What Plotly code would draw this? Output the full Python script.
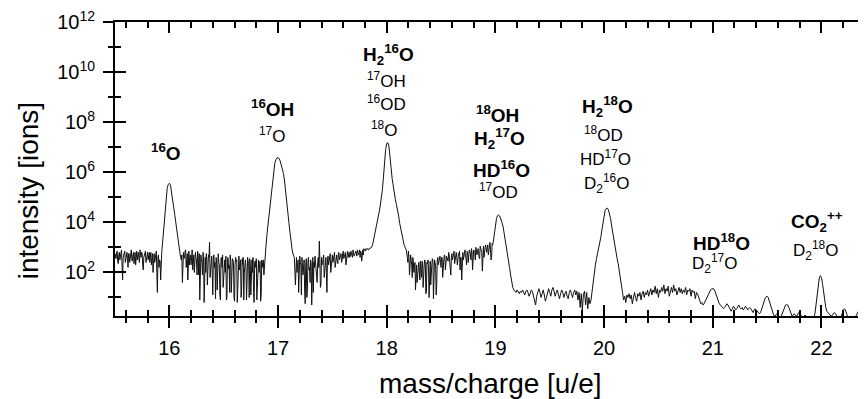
import plotly.graph_objects as go

# ---------------- data (log10 of intensity [ions]) ----------------
# peaks/baseline sampled every 0.01 u/e; the noisy stretches also carry the half-step samples
MASS_STEP = 0.01

noise_a_start = 15.50
noise_a = [2.75, 2.55, 2.85, 2.35, 2.8, 2.65, 2.9, 1.7, 2.7, 2.85, 2.5, 2.8, 2.2, 2.75, 2.6,
           2.9, 2.45, 2.8, 2.65, 2.3, 2.85, 2.7, 2.55, 2.9, 2.6, 2.75, 2.1, 2.7, 2.85, 2.5,
           2.8, 2.65, 2.4, 2.8, 2.7, 2.0, 2.75, 2.6, 2.85, 1.2, 2.7, 2.5, 1.7]
noise_a_mid = [2.6, 2.8, 2.45, 2.7, 2.5, 2.85, 2.3, 2.6, 2.8, 2.4, 2.7, 2.55, 2.75, 2.4, 2.85,
               2.5, 2.7, 2.35, 2.8, 2.6, 2.5, 2.8, 2.4, 2.65, 2.8, 2.3, 2.6, 2.75, 2.4, 2.7,
               2.5, 2.8, 2.6, 2.3, 2.75, 2.55, 2.4, 2.7, 2.0, 2.6, 2.2, 2.45, 2.4]

peak_16_start = 15.93
peak_16 = [2.8, 3.3, 3.9, 4.5, 5.0, 5.35, 5.52, 5.56, 5.5, 5.25, 4.9, 4.6, 4.3, 3.95, 3.6,
           3.2, 2.9, 2.7]

noise_b_start = 16.11
noise_b = [2.5, 1.6, 2.8, 2.6, 2.9, 2.4, 1.7, 2.85, 2.7, 2.3, 2.9, 2.6, 2.0, 2.8, 2.5,
           2.85, 1.9, 0.9, 2.7, 2.4, 2.8, 0.8, 2.6, 2.75, 1.5, 2.7, 3.2, 2.2, 2.65, 1.1,
           2.7, 2.4, 2.6, 1.3, 2.75, 2.3, 0.9, 2.6, 2.7, 1.8, 2.5, 2.65, 1.0, 2.6, 2.3,
           2.7, 1.2, 2.55, 2.4, 0.85, 2.6, 2.5, 1.6, 2.65, 2.3, 1.0, 2.55, 2.6, 2.0, 2.5,
           0.9, 2.6, 2.35, 2.55, 1.1, 2.5, 2.6, 0.8, 2.45, 2.55, 1.4, 2.5, 2.3, 0.85, 2.5,
           2.4, 1.9]
noise_b_mid = [2.7, 2.3, 2.55, 2.85, 2.2, 2.75, 2.5, 2.3, 2.65, 2.8,
               2.1, 2.7, 2.4, 2.55, 1.9, 2.6, 2.75, 2.2, 2.5, 1.9,
               2.65, 2.3, 2.0, 2.55, 2.2, 2.6, 1.8, 2.4, 1.9, 2.6,
               2.2, 0.95, 2.5, 2.1, 2.4, 1.1, 2.55, 2.2, 1.4, 2.45,
               2.0, 0.9, 2.5, 2.15, 1.2, 2.45, 2.0, 2.5, 1.0, 2.3,
               2.45, 0.8, 2.35, 2.1, 2.5, 1.3, 2.3, 0.9, 2.4, 2.2,
               1.6, 2.45, 1.0, 2.3, 2.5, 2.0, 1.2, 2.4, 2.2, 0.9,
               2.35, 2.0, 2.45, 1.1, 2.2, 2.5, 2.3]

peak_17_start = 16.88
peak_17 = [2.7, 3.1, 3.6, 4.0, 4.5, 5.0, 5.4, 5.8, 6.1, 6.35, 6.5, 6.57, 6.58, 6.55, 6.45,
           6.3, 6.15, 5.95, 5.65, 5.3, 4.9, 4.45, 4.0, 3.6, 3.2, 2.9, 2.7, 2.6]

noise_c_start = 17.16
noise_c = [1.5, 2.6, 2.4, 1.2, 2.65, 2.3, 2.6, 1.9, 2.5, 0.75, 2.55, 1.3, 2.6, 2.2, 2.5,
           0.7, 2.6, 2.4, 2.65, 2.0, 1.6, 2.6, 3.25, 1.4, 2.6, 2.35, 2.7, 2.2, 2.6, 1.2,
           2.65, 2.5, 2.75, 2.3, 2.7, 2.55, 2.8, 2.4, 2.7, 2.35, 2.8, 2.6, 2.75, 2.5, 2.85,
           2.65, 2.8, 2.5, 2.85, 2.7, 2.6, 2.85, 2.75, 2.9, 2.65, 2.85, 2.8, 2.9, 2.7, 2.9,
           2.85, 2.45, 2.9, 2.95, 2.9, 2.95, 2.95, 2.93, 2.97, 2.98]
noise_c_mid = [2.3, 2.0, 2.5, 1.8, 2.4, 1.1, 2.2, 2.45, 1.3, 2.3,
               1.0, 2.4, 2.1, 1.6, 2.35, 2.5, 1.2, 2.2, 2.45, 1.9,
               2.4, 2.2, 2.5, 1.5, 2.3, 2.55, 1.8, 2.4, 2.0, 2.5,
               2.3, 2.6, 2.0, 2.55, 2.4, 2.65, 2.2, 2.6, 2.45, 2.7,
               2.5, 2.7, 2.4, 2.75, 2.55, 2.7, 2.3, 2.75, 2.6, 2.8,
               2.65, 2.75, 2.6, 2.8, 2.7, 2.85, 2.65, 2.8, 2.75, 2.6,
               2.8, 2.85, 2.7, 2.9, 2.85, 2.9, 2.92, 2.9, 2.95, 3.0]

peak_18_start = 17.86
peak_18 = [3.0, 3.1, 3.3, 3.5, 3.7, 3.9, 4.15, 4.4, 4.65, 4.9, 5.3, 5.8, 6.4, 6.9, 7.15,
           7.18, 7.05, 6.7, 6.2, 5.75, 5.4, 5.1, 4.9, 4.7, 4.5, 4.25, 3.95, 3.7, 3.45, 3.25,
           3.1, 3.0, 2.9]

noise_d_start = 18.19
noise_d = [2.6, 2.85, 1.9, 2.7, 2.3, 2.6, 2.0, 2.4, 2.2, 1.6, 2.35, 2.1, 2.45, 1.8, 2.4,
           2.2, 2.5, 1.15, 2.4, 2.5, 1.0, 2.45, 2.2, 2.55, 0.95, 2.5, 2.3, 1.5, 2.6, 2.4,
           2.65, 2.2, 2.6, 2.45, 2.7, 2.1, 2.65, 2.5, 2.8, 2.4, 1.9, 2.75, 2.6, 2.85, 2.5,
           2.8, 2.3, 2.75, 2.85, 2.6, 1.7, 2.8, 2.7, 2.9, 2.55, 2.85, 2.4, 2.9, 2.75, 2.95,
           2.1, 2.9, 2.8, 3.0, 2.7, 2.95, 2.6, 3.05, 2.9, 2.05, 3.05, 2.95, 3.1, 2.8, 3.1,
           3.0, 3.2, 2.5, 3.15]
noise_d_mid = [2.4, 2.6, 2.2, 2.5, 1.8, 2.45, 2.2, 1.3, 2.3, 2.0,
               2.4, 1.7, 2.25, 2.45, 1.4, 2.3, 2.4, 1.2, 2.35, 2.1,
               2.45, 1.5, 2.3, 2.5, 2.0, 2.4, 1.1, 2.5, 2.3, 2.55,
               2.4, 2.6, 1.8, 2.5, 2.65, 2.3, 2.6, 2.45, 2.7, 2.2,
               2.6, 2.5, 2.7, 2.35, 2.75, 2.6, 2.5, 2.7, 2.1, 2.6,
               2.65, 2.5, 2.75, 2.6, 2.3, 2.8, 2.65, 2.85, 2.5, 2.8,
               2.7, 2.85, 2.5, 2.9, 2.75, 2.85, 2.55, 2.95, 2.8, 2.9,
               2.6, 3.0, 2.85, 3.0, 2.7, 3.05, 2.9, 2.6, 3.1]

peak_19_start = 18.98
peak_19 = [3.2, 3.5, 3.9, 4.15, 4.27, 4.29, 4.25, 4.15, 4.0, 3.85, 3.6, 3.3, 3.0, 2.7, 2.45,
           2.2, 1.9, 1.6, 1.4, 1.3]

noise_e_start = 19.18
noise_e = [1.25, 1.2, 1.3, 1.22, 1.15, 1.25, 1.2, 1.3, 1.18, 1.1, 1.25, 1.3, 1.2, 1.05, 1.15,
           1.3, 1.25, 1.1, 0.9, 0.7, 1.05, 1.25, 1.35, 1.2, 1.0, 1.15, 1.3, 1.1, 0.85, 1.0,
           1.25, 1.35, 1.2, 1.05, 1.3, 1.4, 1.25, 1.05, 1.2, 1.3, 1.1, 0.95, 1.15, 1.3, 1.2,
           1.0, 1.15, 1.25, 1.05, 0.95, 1.2, 1.3, 1.15, 1.0, 1.2, 1.3, 1.1, 1.25, 0.9, 1.2,
           0.6, 1.15, 0.5, 1.1, 1.25, 0.7, 1.2, 0.55, 1.0, 0.75]

peak_20_start = 19.88
peak_20 = [0.9, 1.3, 1.7, 2.0, 2.3, 2.55, 2.75, 2.95, 3.15, 3.4, 3.7, 4.0, 4.3, 4.48, 4.55,
           4.57, 4.5, 4.35, 4.15, 3.85, 3.55, 3.25, 2.95, 2.75, 2.55, 2.35, 2.1, 1.85, 1.55, 1.2,
           0.9]

noise_f_start = 20.19
noise_f = [1.05, 0.8, 1.1, 1.0, 1.15, 0.95, 1.1, 0.75, 1.05, 1.2, 1.0, 0.85, 1.15, 1.05, 1.2,
           0.9, 1.15, 1.25, 1.0, 1.2, 1.1, 1.3, 1.05, 1.25, 1.35, 1.1, 1.3, 1.2, 1.45, 1.15,
           1.35, 1.0, 1.3, 1.2, 1.4, 1.25, 1.5, 1.15, 1.35, 1.25, 1.45, 1.05, 1.3, 1.4, 1.2,
           1.5, 1.25, 1.35, 1.1, 1.3, 1.4, 1.2, 1.35, 1.15, 1.3, 1.2, 1.4, 1.1, 1.3, 1.25,
           1.35, 1.05, 1.3, 1.2, 1.25, 0.95, 1.2, 1.15, 1.0, 0.8, 0.75, 0.8, 0.7, 0.75, 0.85,
           0.95]

tail_start = 20.95
tail = [1.05, 1.15, 1.25, 1.3, 1.35, 1.36, 1.34, 1.25, 1.1, 0.95, 0.85, 0.75, 0.7, 0.65, 0.6,
        0.55, 0.6, 0.7, 0.75, 0.7, 0.6, 0.5, 0.45, 0.55, 0.65, 0.6, 0.5, 0.55, 0.65, 0.7,
        0.6, 0.55, 0.6, 0.5, 0.55, 0.65, 0.6, 0.5, 0.55, 0.6, 0.55, 0.45, 0.4, 0.5, 0.55,
        0.5, 0.45, 0.4, 0.35, 0.4, 0.55, 0.7, 0.85, 0.95, 1.02, 1.05, 1.0, 0.85, 0.7, 0.55,
        0.4, 0.3, 0.25, 0.3, 0.35, 0.3, 0.25, 0.2, 0.25, 0.35, 0.5, 0.62, 0.7, 0.72, 0.7,
        0.6, 0.45, 0.3, 0.25, 0.3, 0.35, 0.3, 0.25, 0.3, 0.4, 0.35, 0.3, 0.25, 0.2, 0.25,
        0.3, 0.25, 0.2, 0.15, 0.2, 0.25, 0.2, 0.15, 0.2, 0.35, 0.7, 1.1, 1.5, 1.78, 1.87,
        1.8, 1.55, 1.2, 0.85, 0.6, 0.45, 0.4, 0.35, 0.3, 0.25, 0.3, 0.35, 0.4, 0.35, 0.25,
        0.2, 0.15, 0.2, 0.25, 0.35, 0.5, 0.55, 0.5, 0.35, 0.25, 0.2, 0.15, 0.2, 0.25, 0.2,
        0.15, 0.2, 0.3, 0.4, 0.45, 0.4, 0.3, 0.25, 0.2, 0.25, 0.3, 0.35, 0.3]

# (start mass, values on the 0.01 grid, values half a step later or None)
segments = [
    (noise_a_start, noise_a, noise_a_mid), (peak_16_start, peak_16, None),
    (noise_b_start, noise_b, noise_b_mid), (peak_17_start, peak_17, None),
    (noise_c_start, noise_c, noise_c_mid), (peak_18_start, peak_18, None),
    (noise_d_start, noise_d, noise_d_mid), (peak_19_start, peak_19, None),
    (noise_e_start, noise_e, None), (peak_20_start, peak_20, None),
    (noise_f_start, noise_f, None), (tail_start, tail, None),
]

# axis ticks
x_major = [16, 17, 18, 19, 20, 21, 22]
x_labels = ["16", "17", "18", "19", "20", "21", "22"]
y_major_exp = [2, 4, 6, 8, 10, 12]
y_minor_exp = [1, 3, 5, 7, 9, 11]
y_labels = ["10<sup>%d</sup>" % e for e in y_major_exp]

# peak labels: text, mass position, log10 intensity position, bold
labels_text = [
    "<sup>16</sup>O", "<sup>16</sup>OH", "<sup>17</sup>O",
    "H<sub>2</sub><sup>16</sup>O", "<sup>17</sup>OH", "<sup>16</sup>OD", "<sup>18</sup>O",
    "<sup>18</sup>OH", "H<sub>2</sub><sup>17</sup>O", "HD<sup>16</sup>O", "<sup>17</sup>OD",
    "H<sub>2</sub><sup>18</sup>O", "<sup>18</sup>OD", "HD<sup>17</sup>O", "D<sub>2</sub><sup>16</sup>O",
    "HD<sup>18</sup>O", "D<sub>2</sub><sup>17</sup>O",
    "CO<sub>2</sub><sup>++</sup>", "D<sub>2</sub><sup>18</sup>O",
]
labels_mass = [15.969, 16.945, 16.945,
               18.021, 17.994, 17.994, 17.975,
               19.015, 19.042, 19.052, 19.024,
               20.027, 19.999, 20.009, 20.018,
               21.085, 21.012,
               21.959, 21.941]
labels_level = [6.82, 8.56, 7.49,
                10.70, 9.67, 8.76, 7.73,
                8.32, 7.34, 6.15, 5.24,
                8.64, 7.53, 6.55, 5.56,
                3.2, 2.36,
                4.05, 2.87]
labels_bold = [True, True, False,
               True, False, False, False,
               True, True, True, False,
               True, False, False, False,
               True, False,
               True, False]

# ---------------- build ----------------
mass, intensity = [], []
for start, vals, mids in segments:
    for i, v in enumerate(vals):
        mass.append(round(start + i * MASS_STEP, 4))
        intensity.append(10 ** v)
        if mids is not None:
            mass.append(round(start + (i + 0.5) * MASS_STEP, 4))
            intensity.append(10 ** mids[i])

FONT = "Liberation Sans, Arial, sans-serif"
X_RANGE = [15.5, 22.41]
Y_RANGE = [0.26, 12]

fig = go.Figure()
fig.add_trace(go.Scatter(x=mass, y=intensity, mode="lines",
                         line=dict(color="#111111", width=1), showlegend=False,
                         hoverinfo="skip"))
# same data on the overlay axes (invisible) so their crossing ticks and labels render
fig.add_trace(go.Scatter(x=mass, y=intensity, mode="lines", xaxis="x2", yaxis="y2",
                         line=dict(color="rgba(0,0,0,0)", width=1), showlegend=False,
                         hoverinfo="skip"))

common_x = dict(range=X_RANGE, tickmode="array", tickvals=x_major, showgrid=False,
                zeroline=False, ticklen=11, tickwidth=2, tickcolor="black")
fig.update_layout(
    # the page body has an 8px margin: the figure is drawn 8px in from the top-left corner
    width=858, height=391,
    margin=dict(l=107, r=0, t=11, b=83),
    paper_bgcolor="white", plot_bgcolor="white",
    font=dict(family=FONT, color="black"),
    xaxis=dict(**common_x, ticks="inside", showticklabels=False,
               showline=True, linewidth=2, linecolor="black", mirror="ticks",
               minor=dict(dtick=0.2, tick0=16, ticks="inside", ticklen=6, tickwidth=2,
                          tickcolor="black", showgrid=False)),
    xaxis2=dict(**common_x, overlaying="x", anchor="y", side="bottom", ticks="outside",
                showline=False, ticktext=x_labels, showticklabels=True,
                ticklabelstandoff=3,
                tickfont=dict(size=20, family=FONT, color="black"),
                minor=dict(dtick=0.2, tick0=16, ticks="outside", ticklen=6, tickwidth=2,
                           tickcolor="black", showgrid=False)),
    yaxis=dict(type="log", range=Y_RANGE, tickmode="array",
               tickvals=[10 ** e for e in y_major_exp], ticks="inside", ticklen=11,
               tickwidth=2, tickcolor="black", showticklabels=False, showgrid=False,
               zeroline=False, showline=True, linewidth=2, linecolor="black",
               minor=dict(tickmode="array", tickvals=[10 ** e for e in y_minor_exp],
                          ticks="inside", ticklen=6, tickwidth=2, tickcolor="black",
                          showgrid=False)),
    yaxis2=dict(type="log", range=Y_RANGE, overlaying="y", anchor="x", side="left",
                tickmode="array", tickvals=[10 ** e for e in y_major_exp],
                ticktext=y_labels, ticks="outside", ticklen=11, tickwidth=2,
                tickcolor="black", showgrid=False, zeroline=False, showline=False,
                ticklabeloverflow="allow", ticklabelstandoff=4,
                tickfont=dict(size=20, family=FONT, color="black"),
                minor=dict(tickmode="array", tickvals=[10 ** e for e in y_minor_exp],
                           ticks="outside", ticklen=6, tickwidth=2, tickcolor="black",
                           showgrid=False)),
)

for txt, mx, lv, bold in zip(labels_text, labels_mass, labels_level, labels_bold):
    fig.add_annotation(x=mx, y=lv, xref="x", yref="y",
                       text=("<b>%s</b>" % txt) if bold else txt, showarrow=False,
                       xanchor="center", yanchor="middle",
                       font=dict(size=19 if bold else 17, family=FONT, color="black"))

# axis titles
fig.add_annotation(x=0.5, y=0, xref="paper", yref="paper", text="mass/charge [u/e]",
                   showarrow=False, xanchor="center", yanchor="middle", yshift=-67,
                   font=dict(size=28, family=FONT, color="black"))
fig.add_annotation(x=0, y=0.424, xref="paper", yref="paper", text="intensity [ions]",
                   textangle=-90, showarrow=False, xanchor="center", yanchor="middle",
                   xshift=-87, font=dict(size=28, family=FONT, color="black"))

fig.write_html("out.html")
